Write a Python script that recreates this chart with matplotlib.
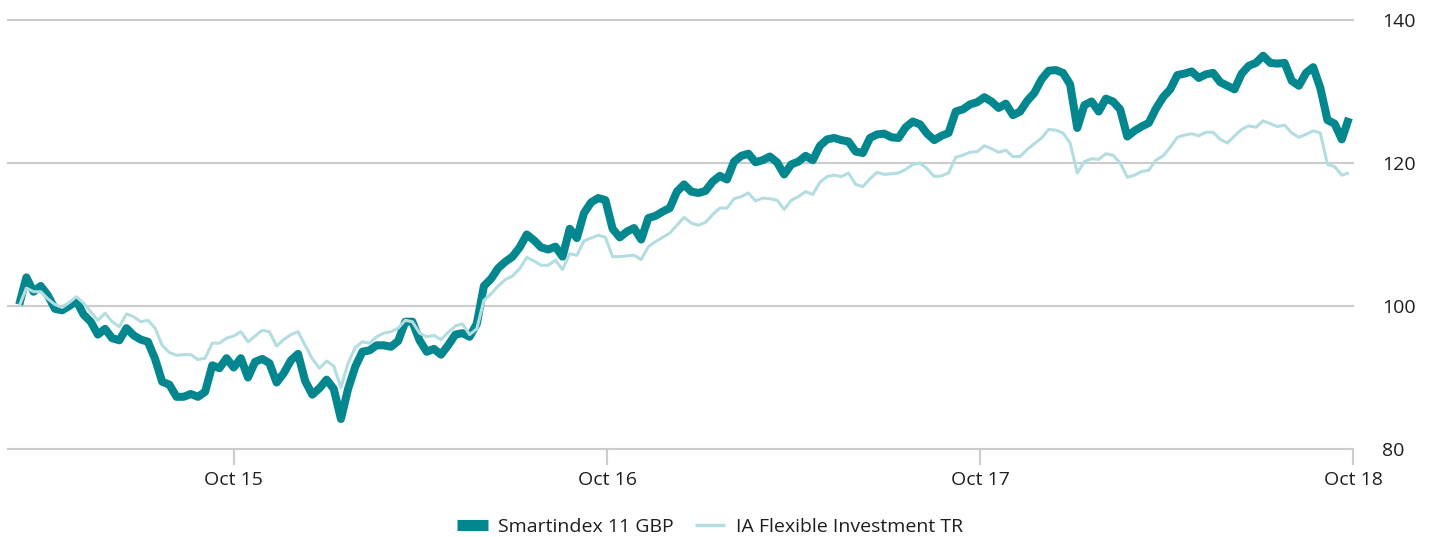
import pandas as pd
import numpy as np
import matplotlib
matplotlib.use("Agg")
import matplotlib.pyplot as plt
import matplotlib.dates as mdates
from matplotlib.lines import Line2D

plt.rcParams['font.family'] = ['Open Sans', 'DejaVu Sans']

# weekly values
start_date = "2015-03-05"

smartindex = [
    100.2, 104.0, 102.0, 102.8, 101.5, 99.6, 99.4, 100.0, 100.7, 98.8,
    97.8, 96.0, 96.8, 95.5, 95.2, 96.9, 95.9, 95.3, 95.0, 92.6,
    89.4, 89.0, 87.3, 87.3, 87.7, 87.3, 88.0, 91.7, 91.3, 92.7,
    91.4, 92.7, 90.0, 92.2, 92.6, 92.0, 89.3, 90.6, 92.4, 93.3,
    89.5, 87.6, 88.5, 89.7, 88.4, 84.2, 88.4, 91.5, 93.6, 93.8,
    94.5, 94.5, 94.3, 95.1, 97.8, 97.8, 95.2, 93.6, 94.0, 93.2,
    94.5, 96.0, 96.2, 95.7, 97.5, 102.8, 103.8, 105.3, 106.2, 106.9,
    108.2, 110.0, 109.2, 108.2, 107.9, 108.3, 106.9, 110.8, 109.5, 113.0,
    114.5, 115.1, 114.8, 110.8, 109.6, 110.4, 110.9, 109.3, 112.3, 112.6,
    113.2, 113.7, 116.0, 117.0, 116.0, 115.8, 116.1, 117.4, 118.2, 117.7,
    120.2, 121.0, 121.3, 120.1, 120.4, 120.9, 120.1, 118.4, 119.8, 120.2,
    121.0, 120.4, 122.4, 123.3, 123.5, 123.2, 123.0, 121.6, 121.4, 123.5,
    124.0, 124.1, 123.6, 123.5, 125.0, 125.8, 125.4, 124.1, 123.2, 123.8,
    124.2, 127.2, 127.5, 128.2, 128.5, 129.2, 128.6, 127.7, 128.3, 126.7,
    127.2, 128.7, 129.8, 131.7, 132.9, 133.0, 132.6, 131.0, 124.9, 128.1,
    128.6, 127.2, 129.0, 128.6, 127.5, 123.7, 124.5, 125.1, 125.6, 127.6,
    129.2, 130.3, 132.3, 132.5, 132.8, 131.9, 132.4, 132.6, 131.3, 130.8,
    130.3, 132.5, 133.6, 134.0, 135.0, 134.0, 133.9, 134.0, 131.5, 130.8,
    132.6, 133.4, 130.5, 126.0, 125.5, 123.3, 126.3,
]

ia_flexible = [
    100.0, 102.5, 102.0, 102.0, 101.0, 100.2, 99.8, 100.5, 101.3, 100.4,
    99.2, 98.0, 99.0, 97.8, 97.1, 98.9, 98.5, 97.8, 98.0, 96.9,
    94.5, 93.5, 93.1, 93.2, 93.2, 92.5, 92.7, 94.8, 94.8, 95.5,
    95.8, 96.4, 95.0, 95.8, 96.6, 96.4, 94.4, 95.3, 96.0, 96.4,
    94.5, 92.6, 91.3, 92.3, 91.6, 88.6, 92.0, 94.2, 95.0, 94.8,
    95.7, 96.2, 96.4, 96.9, 98.0, 97.8, 96.2, 95.7, 95.9, 95.3,
    96.3, 97.2, 97.5, 96.0, 96.8, 100.8, 101.7, 102.8, 103.7, 104.2,
    105.2, 106.8, 106.3, 105.7, 105.7, 106.4, 105.1, 107.3, 107.1, 109.1,
    109.5, 109.9, 109.6, 106.9, 106.9, 107.0, 107.1, 106.5, 108.3, 109.0,
    109.6, 110.2, 111.3, 112.4, 111.6, 111.3, 111.7, 112.8, 113.7, 113.7,
    115.0, 115.3, 115.8, 114.7, 115.1, 115.0, 114.8, 113.5, 114.8, 115.3,
    116.0, 115.6, 117.3, 118.1, 118.3, 118.1, 118.6, 117.0, 116.7, 117.8,
    118.7, 118.4, 118.5, 118.6, 119.1, 119.8, 120.0, 119.2, 118.1, 118.2,
    118.6, 120.8, 121.1, 121.5, 121.6, 122.4, 122.0, 121.5, 121.8, 120.9,
    120.9, 121.9, 122.7, 123.5, 124.7, 124.6, 124.2, 122.8, 118.6, 120.2,
    120.6, 120.5, 121.3, 121.1, 120.0, 118.0, 118.3, 118.8, 119.0, 120.4,
    121.0, 122.2, 123.6, 123.9, 124.1, 123.8, 124.3, 124.3, 123.3, 122.8,
    123.8, 124.7, 125.2, 125.0, 125.9, 125.5, 125.1, 125.3, 124.2, 123.6,
    124.0, 124.5, 124.2, 119.8, 119.5, 118.3, 118.6,
]

tick_dates = ["2015-10-01", "2016-10-01", "2017-10-01", "2018-10-01"]
y_ticks = [80, 100, 120, 140]

dates = pd.date_range(start_date, periods=len(smartindex), freq="7D")

dark = "#03878f"
light = "#b3dde0"
grid_col = "#cccccc"
text_col = "#1e1e1e"

fig = plt.figure(figsize=(14.32, 5.37), dpi=100)
ax = fig.add_axes([8 / 1432, 88 / 537, (1353 - 8) / 1432, (449 - 20) / 537])

ax.plot(dates, smartindex, color=dark, lw=5.8, solid_joinstyle="round",
        solid_capstyle="butt", zorder=3)
ax.plot(dates, ia_flexible, color=light, lw=2.2, solid_joinstyle="round",
        solid_capstyle="butt", zorder=4)

ax.set_ylim(80, 140)
ax.set_xlim(pd.Timestamp("2015-02-22"), pd.Timestamp("2018-10-01"))

for s in ax.spines.values():
    s.set_visible(False)

ax.set_yticks(y_ticks)
ax.yaxis.tick_right()
ax.tick_params(axis="y", length=0, pad=21, labelsize=14, labelcolor=text_col)
ax.grid(axis="y", color=grid_col, lw=1.5)
for gl in ax.yaxis.get_gridlines():
    gl.set_clip_on(False)

ax.set_xticks(pd.to_datetime(tick_dates))
ax.xaxis.set_major_formatter(mdates.DateFormatter("%b %y"))
ax.tick_params(axis="x", length=11.5, width=1.5, color=grid_col, pad=4,
               labelsize=14, labelcolor=text_col)

handles = [Line2D([], [], color=dark, lw=8, solid_capstyle="butt"),
           Line2D([], [], color=light, lw=2.5, solid_capstyle="butt")]
fig.legend(handles, ["Smartindex 11 GBP", "IA Flexible Investment TR"],
           loc="center", bbox_to_anchor=(0.496, 0.019), ncol=2, frameon=False,
           fontsize=14, handlelength=1.55, handletextpad=0.55,
           columnspacing=1.1, labelcolor=text_col)

fig.savefig("out.png", dpi=100)
